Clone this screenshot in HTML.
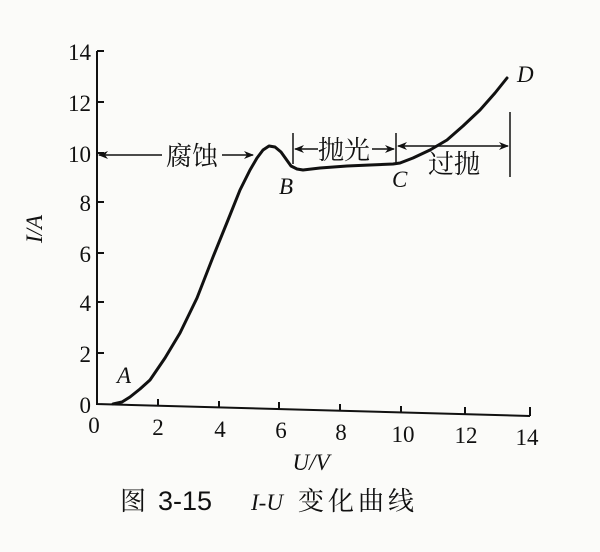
<!DOCTYPE html>
<html><head><meta charset="utf-8"><style>
html,body{margin:0;padding:0;background:#fbfbf9;}
svg{display:block;}
text{fill:#111;}
.n{font-family:"Liberation Serif",serif;font-size:23px;}
.c{font-family:"Liberation Serif","Noto Serif CJK SC","Noto Sans CJK SC",serif;font-size:26px;}
.i{font-family:"Liberation Serif",serif;font-style:italic;font-size:23px;}
</style></head><body>
<svg width="600" height="552" viewBox="0 0 600 552" xmlns="http://www.w3.org/2000/svg">
<defs><marker id="ah" markerWidth="10" markerHeight="8" refX="9" refY="4" orient="auto" markerUnits="userSpaceOnUse"><path d="M0,0 L10,4 L0,8 L3,4 Z" fill="#111"/></marker></defs>
<g stroke="#111" stroke-width="2" fill="none">
<path d="M97,51 L97,404 L530,416"/>
<path d="M97,51 h7 M97,102 h7 M97,153 h7 M97,202 h7 M97,253 h7 M97,302 h7 M97,353 h7"/>
<path d="M158,406 v-7 M219,408 v-7 M279,409 v-7 M340,411 v-7 M401,413 v-7 M465,414 v-7 M530,416 v-9"/>
</g>
<g class="n" text-anchor="end">
<text x="91" y="60">14</text><text x="91" y="111">12</text><text x="91" y="162">10</text>
<text x="91" y="211">8</text><text x="91" y="262">6</text><text x="91" y="311">4</text>
<text x="91" y="362">2</text><text x="91" y="413">0</text>
</g>
<g class="n" text-anchor="middle">
<text x="94" y="433">0</text><text x="158" y="435">2</text><text x="220" y="437">4</text>
<text x="281" y="438">6</text><text x="341" y="440">8</text><text x="403" y="442">10</text>
<text x="466" y="443">12</text><text x="527" y="445">14</text>
</g>
<text class="n" transform="translate(42,229) rotate(-90)" text-anchor="middle" font-style="italic">I/A</text>
<text class="i" x="311" y="470" text-anchor="middle">U/V</text>
<text class="c" x="120" y="510" font-size="28">图</text>
<text x="158" y="510" font-size="27" font-family="Liberation Sans, sans-serif" fill="#111">3-15</text>
<text class="i" x="251" y="510" font-size="28">I-U</text>
<text class="c" x="298" y="510" font-size="29" letter-spacing="4">变化曲线</text>
<polyline fill="none" stroke="#111" stroke-width="3" stroke-linejoin="round" stroke-linecap="round"
points="113,404 122,402 130,397 140,389 150,380 165,358 180,333 197,298 213,257 228,220 240,190 250,170 257,158 263,150 269,146 275,147 281,152 286,159 291,166 297,169 303,170 320,168 347,166 370,165 393,164 400,163 413,158 430,150 447,140 463,126 480,110 495,93 507,78"/>
<g class="i" font-size="25"><text x="117" y="383">A</text><text x="279" y="194">B</text><text x="392" y="187">C</text><text x="517" y="82">D</text></g>
<g stroke="#111" stroke-width="1.5" fill="none">
<line x1="162" y1="155" x2="99" y2="155" marker-end="url(#ah)"/>
<line x1="222" y1="155" x2="253" y2="155" marker-end="url(#ah)"/>
<line x1="293" y1="133" x2="293" y2="164"/>
<line x1="318" y1="149" x2="295" y2="149" marker-end="url(#ah)"/>
<line x1="372" y1="149" x2="394" y2="149" marker-end="url(#ah)"/>
<line x1="396" y1="133" x2="396" y2="164"/>
<line x1="430" y1="146" x2="398" y2="146" marker-end="url(#ah)"/>
<line x1="430" y1="146" x2="508" y2="146" marker-end="url(#ah)"/>
<line x1="510" y1="112" x2="510" y2="177"/>
</g>
<text class="c" x="166" y="165" font-size="26">腐蚀</text>
<text class="c" x="318" y="159" font-size="26">抛光</text>
<text class="c" x="428" y="173" font-size="26">过抛</text>
</svg>
</body></html>
